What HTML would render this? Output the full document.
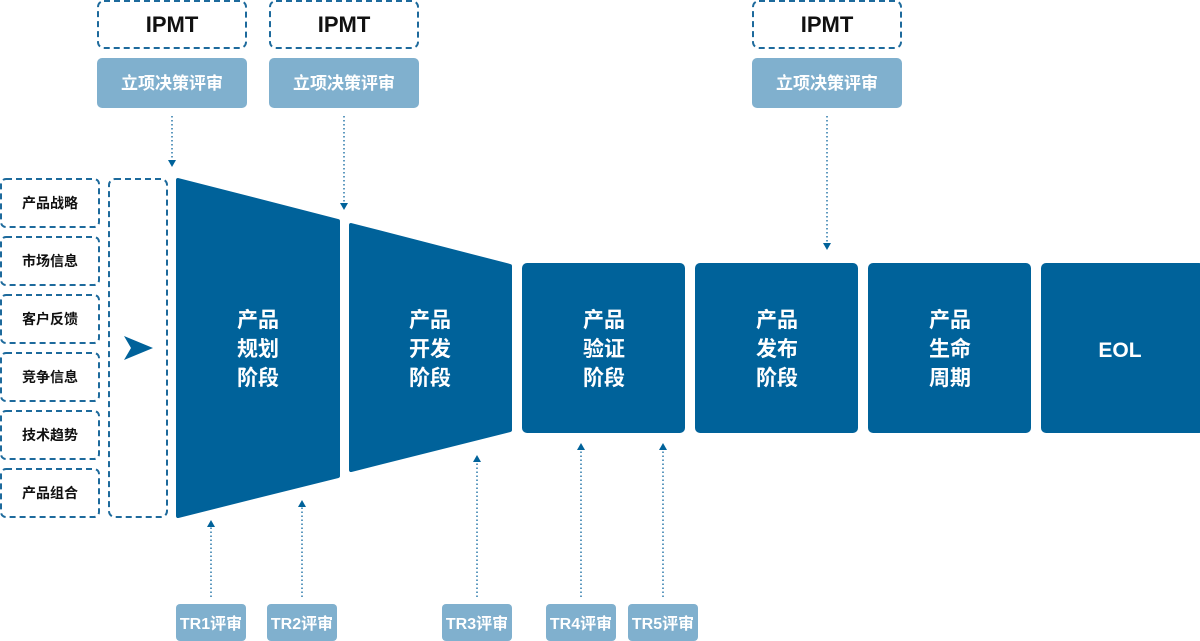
<!DOCTYPE html>
<html><head><meta charset="utf-8"><style>
html,body{margin:0;padding:0;background:#fff;width:1200px;height:641px;overflow:hidden}
text{font-family:"Liberation Sans","Noto Sans CJK SC",sans-serif;font-weight:bold}
</style></head><body>
<svg width="1200" height="641" viewBox="0 0 1200 641" xmlns="http://www.w3.org/2000/svg">
<g fill="none" stroke="#1d6a9c" stroke-width="2" stroke-dasharray="6,4">
<rect x="98" y="1" width="148" height="47" rx="6"/>
<rect x="270" y="1" width="148" height="47" rx="6"/>
<rect x="753" y="1" width="148" height="47" rx="6"/>
<rect x="1" y="179" width="98" height="48" rx="5"/>
<rect x="1" y="237" width="98" height="48" rx="5"/>
<rect x="1" y="295" width="98" height="48" rx="5"/>
<rect x="1" y="353" width="98" height="48" rx="5"/>
<rect x="1" y="411" width="98" height="48" rx="5"/>
<rect x="1" y="469" width="98" height="48" rx="5"/>
<rect x="109" y="179" width="58" height="338" rx="6"/>
</g>
<g font-size="22" fill="#111" text-anchor="middle">
<text x="172" y="32">IPMT</text><text x="344" y="32">IPMT</text><text x="827" y="32">IPMT</text>
</g>
<g fill="#80b0ce">
<rect x="97" y="58" width="150" height="50" rx="5"/>
<rect x="269" y="58" width="150" height="50" rx="5"/>
<rect x="752" y="58" width="150" height="50" rx="5"/>
<rect x="176" y="604" width="70" height="37" rx="4"/>
<rect x="267" y="604" width="70" height="37" rx="4"/>
<rect x="442" y="604" width="70" height="37" rx="4"/>
<rect x="546" y="604" width="70" height="37" rx="4"/>
<rect x="628" y="604" width="70" height="37" rx="4"/>
</g>
<g font-size="17" fill="#fff" text-anchor="middle">
<text x="172" y="89">立项决策评审</text><text x="344" y="89">立项决策评审</text><text x="827" y="89">立项决策评审</text>
</g>
<g font-size="16" fill="#fff" text-anchor="middle">
<text x="211" y="629">TR1评审</text><text x="302" y="629">TR2评审</text><text x="477" y="629">TR3评审</text><text x="581" y="629">TR4评审</text><text x="663" y="629">TR5评审</text>
</g>
<g font-size="14" fill="#111" text-anchor="middle">
<text x="50" y="208">产品战略</text><text x="50" y="266">市场信息</text><text x="50" y="324">客户反馈</text>
<text x="50" y="382">竞争信息</text><text x="50" y="440">技术趋势</text><text x="50" y="498">产品组合</text>
</g>
<path d="M124,336 L153,348 L124,360 L131,348 z" fill="#00629a"/>
<g fill="#00629a" stroke="#00629a" stroke-width="4" stroke-linejoin="round">
<path d="M178,180 L338,221 L338,476 L178,516 z"/>
<path d="M351,225 L510,266 L510,430 L351,470 z"/>
</g>
<g fill="#00629a">
<rect x="522" y="263" width="163" height="170" rx="5"/>
<rect x="695" y="263" width="163" height="170" rx="5"/>
<rect x="868" y="263" width="163" height="170" rx="5"/>
<rect x="1041" y="263" width="163" height="170" rx="5"/>
</g>
<g font-size="21" fill="#fff" text-anchor="middle">
<text x="258" y="327">产品</text><text x="258" y="356">规划</text><text x="258" y="385">阶段</text>
<text x="430" y="327">产品</text><text x="430" y="356">开发</text><text x="430" y="385">阶段</text>
<text x="604" y="327">产品</text><text x="604" y="356">验证</text><text x="604" y="385">阶段</text>
<text x="777" y="327">产品</text><text x="777" y="356">发布</text><text x="777" y="385">阶段</text>
<text x="950" y="327">产品</text><text x="950" y="356">生命</text><text x="950" y="385">周期</text>
<text x="1120" y="357">EOL</text>
</g>
<g stroke="#2a78aa" stroke-width="1.5" stroke-dasharray="1.5,2.5" fill="none">
<line x1="172" y1="116" x2="172" y2="160"/>
<line x1="344" y1="116" x2="344" y2="203"/>
<line x1="827" y1="116" x2="827" y2="243"/>
<line x1="211" y1="597" x2="211" y2="527"/>
<line x1="302" y1="597" x2="302" y2="507"/>
<line x1="477" y1="597" x2="477" y2="462"/>
<line x1="581" y1="597" x2="581" y2="450"/>
<line x1="663" y1="597" x2="663" y2="450"/>
</g>
<g fill="#00629a">
<path d="M168,160 L176,160 L172,167 z"/>
<path d="M340,203 L348,203 L344,210 z"/>
<path d="M823,243 L831,243 L827,250 z"/>
<path d="M207,527 L215,527 L211,520 z"/>
<path d="M298,507 L306,507 L302,500 z"/>
<path d="M473,462 L481,462 L477,455 z"/>
<path d="M577,450 L585,450 L581,443 z"/>
<path d="M659,450 L667,450 L663,443 z"/>
</g>
</svg>
</body></html>
